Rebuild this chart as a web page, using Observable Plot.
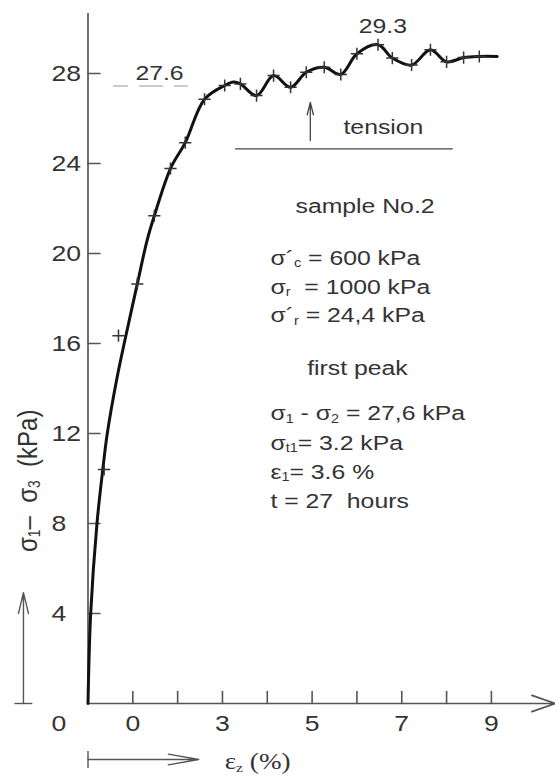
<!DOCTYPE html>
<html><head><meta charset="utf-8">
<script src="https://cdn.jsdelivr.net/npm/d3@7"></script>
<script src="https://cdn.jsdelivr.net/npm/@observablehq/plot@0.6"></script>
<style>
html,body{margin:0;padding:0;background:#fff;}
#chart svg{display:block;}
</style></head><body><div id="chart"></div>
<script>
// ---- data ----
const markerX = [0.36, 0.68, 1.10, 1.48, 1.84, 2.17, 2.60, 3.05, 3.40, 3.76, 4.14, 4.52, 4.87, 5.27, 5.64, 6.00, 6.47, 6.79, 7.22, 7.64, 8.00, 8.38, 8.73];
const markerY = [10.4, 16.35, 18.65, 21.68, 23.78, 24.93, 26.86, 27.47, 27.54, 27.02, 27.91, 27.39, 28.06, 28.28, 27.96, 28.88, 29.28, 28.69, 28.38, 29.06, 28.52, 28.71, 28.76];
const curveX = [0, 0.06, 0.2, 0.33, 0.43, 0.65, 0.84, 1.10, 1.32, 1.48, 1.84, 2.17, 2.60, 3.05, 3.25, 3.40, 3.76, 4.14, 4.52, 4.87, 5.27, 5.64, 6.00, 6.47, 6.79, 7.22, 7.64, 8.00, 8.38, 8.73, 9.13];
const curveY = [0, 4, 8, 10.4, 12, 14.5, 16.3, 18.65, 20.6, 21.68, 23.78, 24.93, 26.86, 27.47, 27.62, 27.54, 27.02, 27.91, 27.39, 28.06, 28.28, 27.96, 28.88, 29.28, 28.69, 28.38, 29.06, 28.52, 28.71, 28.76, 28.76];
const xTicks = [1, 2, 3, 4, 5, 6, 7, 8, 9];
const xTickLabels = ["0", "", "3", "", "5", "", "7", "", "9"];
const yTicks = [4, 8, 12, 16, 20, 24, 28];
const yTickLabels = ["4", "8", "12", "16", "20", "24", "28"];
const firstPeak = 27.6;
const maxPeak = 29.3;
const infoLines = ["sample No.2", "σ´_{c} = 600 kPa", "σ_{r}  = 1000 kPa", "σ´_{r} = 24,4 kPa", "first peak", "σ_{1} - σ_{2} = 27,6 kPa", "σ_{t1}= 3.2 kPa", "ε_{1}= 3.6 %", "t = 27  hours"];
const yLabel = "σ_{1}–  σ_{3}  (kPa)";
const xLabel = "ε_{z} (%)";

// ---- layout (data units) ----
const xMax = 10.43, yMax = 30.67;
const infoX = [4.63, 4.07, 4.07, 4.07, 4.89, 4.07, 4.07, 4.07, 4.07];
const infoY = [21.82, 19.51, 18.21, 16.95, 14.58, 12.58, 11.28, 10.0, 8.67];

const curve = curveX.map((x, i) => ({x, y: curveY[i]}));
const markers = markerX.map((x, i) => ({x, y: markerY[i]}));
const tickShape = {draw(ctx, l) { ctx.moveTo(0, 0); ctx.lineTo(0, -l); }};
const sans = "'Liberation Sans', Arial, sans-serif";
const ink = "#333", axisInk = "#555";

const chart = Plot.plot({
  width: 555, height: 776,
  marginLeft: 87.5, marginRight: 0, marginTop: 13, marginBottom: 73,
  x: {domain: [0, xMax], axis: null},
  y: {domain: [0, yMax], axis: null},
  style: {fontFamily: sans, background: "#fff", color: ink, overflow: "visible"},
  marks: [
    // axes
    Plot.ruleX([0], {stroke: axisInk, strokeWidth: 1.7}),
    Plot.arrow([0], {x1: 0, y1: 0, x2: xMax, y2: 0, stroke: axisInk, strokeWidth: 1.7, headLength: 22, headAngle: 38}),
    Plot.vector(yTicks, {x: 0, y: d => d, length: 12, rotate: 90, anchor: "start", shape: tickShape, stroke: axisInk, strokeWidth: 1.6}),
    Plot.vector(xTicks, {x: d => d, y: 0, length: 12, rotate: 0, anchor: "start", shape: tickShape, stroke: axisInk, strokeWidth: 1.6}),
    Plot.text(yTicks, {x: 0, y: d => d, text: (d, i) => yTickLabels[i], dx: -36.5, textAnchor: "start", lineAnchor: "middle", fontSize: 22.5, fill: ink}),
    Plot.text(["0"], {x: 0, y: 0, text: d => d, dx: -36.5, dy: 20, textAnchor: "start", lineAnchor: "middle", fontSize: 22.5, fill: ink}),
    Plot.text(xTicks, {x: d => d, y: 0, text: (d, i) => xTickLabels[i], dy: 20, textAnchor: "middle", lineAnchor: "middle", fontSize: 22.5, fill: ink}),
    // axis label arrows
    Plot.arrow([0], {x1: -1.44, y1: 0, x2: -1.44, y2: 4.93, stroke: axisInk, strokeWidth: 1.4, headLength: 23, headAngle: 27}),
    Plot.ruleY([0], {x1: -1.63, x2: -1.23, stroke: axisInk, strokeWidth: 1.4}),
    Plot.arrow([0], {x1: 0, y1: -2.49, x2: 2.47, y2: -2.49, stroke: axisInk, strokeWidth: 1.4, headLength: 33, headAngle: 20}),
    Plot.ruleX([0], {y1: -2.13, y2: -2.89, stroke: axisInk, strokeWidth: 1.4}),
    Plot.text([yLabel], {x: -1.35, y: 9.9, text: d => d, rotate: -90, textAnchor: "middle", lineAnchor: "middle", fontSize: 24, fill: ink}),
    Plot.text([xLabel], {x: 3.05, y: -2.93, text: d => d, textAnchor: "start", lineAnchor: "bottom", fontSize: 23, fontFamily: "'Liberation Serif', 'Times New Roman', serif", fill: ink}),
    // annotations
    Plot.ruleY([27.45], {x1: 0.57, x2: 2.24, stroke: "#bbb", strokeWidth: 1.5, strokeDasharray: "15,11,24,11"}),
    Plot.text([firstPeak], {x: 1.595, y: 27.7, text: d => d.toFixed(1), textAnchor: "middle", lineAnchor: "bottom", fontSize: 21, fill: ink}),
    Plot.text([maxPeak], {x: 6.58, y: 29.82, text: d => d.toFixed(1), textAnchor: "middle", lineAnchor: "bottom", fontSize: 21, fill: ink}),
    Plot.ruleY([24.65], {x1: 3.29, x2: 8.15, stroke: "#444", strokeWidth: 1.3}),
    Plot.arrow([0], {x1: 4.96, y1: 25.02, x2: 4.96, y2: 26.72, stroke: "#444", strokeWidth: 1.3, headLength: 25, headAngle: 28}),
    Plot.text(["tension"], {x: 5.70, y: 25.33, text: d => d, textAnchor: "start", lineAnchor: "bottom", fontSize: 21, fill: ink}),
    Plot.text(infoLines, {x: (d, i) => infoX[i], y: (d, i) => infoY[i], text: d => d, textAnchor: "start", lineAnchor: "bottom", fontSize: 21, fill: ink}),
    // data
    Plot.line(curve, {x: "x", y: "y", curve: "catmull-rom", stroke: "#111", strokeWidth: 3}),
    Plot.dot(markers, {x: "x", y: "y", symbol: "plus", r: 4.0, stroke: ink, strokeWidth: 1.5})
  ]
});
document.getElementById("chart").appendChild(chart);

// subscripts (_{..}) as tspans, preserved spaces, and the figure's wide lettering
const svgns = "http://www.w3.org/2000/svg";
chart.querySelectorAll("text").forEach(t => {
  t.setAttributeNS("http://www.w3.org/XML/1998/namespace", "xml:space", "preserve");
  t.style.whiteSpace = "pre";
  const s = t.textContent;
  if (s.includes("_{")) {
    const fs = parseFloat(getComputedStyle(t).fontSize) || 21;
    t.textContent = "";
    let shifted = false;
    s.split(/_\{([^}]*)\}/).forEach((p, i) => {
      if (p === "") return;
      const ts = document.createElementNS(svgns, "tspan");
      ts.textContent = p;
      if (i % 2 === 1) { ts.setAttribute("font-size", (fs * 0.58).toFixed(1)); ts.setAttribute("dy", (fs * 0.12).toFixed(1)); shifted = true; }
      else if (shifted) { ts.setAttribute("dy", (-fs * 0.12).toFixed(1)); shifted = false; }
      t.appendChild(ts);
    });
  }
  const tr = t.getAttribute("transform");
  if (tr && /translate\(/.test(tr)) t.setAttribute("transform", tr.replace(/(translate\([^)]*\))/, "$1 scale(1.18,1)"));
});
</script>
</body></html>
